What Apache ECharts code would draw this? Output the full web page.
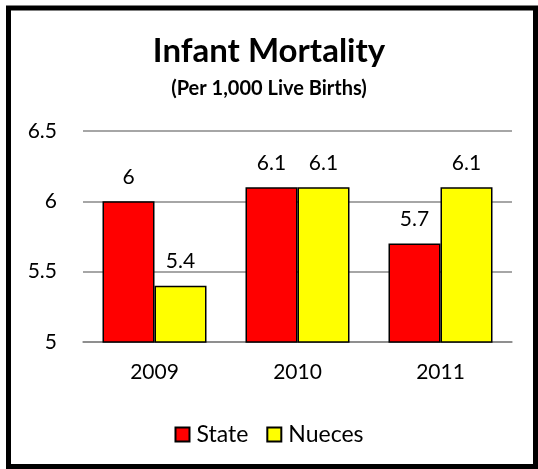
<!DOCTYPE html>
<html>
<head>
<meta charset="utf-8">
<script src="https://cdn.jsdelivr.net/npm/echarts@6/dist/echarts.min.js"></script>
<style>
  html, body { margin: 0; padding: 0; background: #fff; }
  #chart { width: 538px; height: 469px; }
</style>
</head>
<body>
<div id="chart"></div>
<script>
const years = ['2009', '2010', '2011']
const stateValues = [6, 6.1, 5.7]
const nuecesValues = [5.4, 6.1, 6.1]
const yTicks = { min: 5, max: 6.5, step: 0.5 }

const FONT = 'Lato'

const chart = echarts.init(document.getElementById('chart'))

const barLabel = {
	show: true,
	position: 'top',
	distance: 14,
	color: '#000',
	fontSize: 21,
	fontFamily: FONT
}

chart.setOption({
	animation: false,
	title: [
		{
			text: 'Infant Mortality',
			left: 'center',
			top: 30,
			textStyle: { fontSize: 33, fontWeight: 'bold', color: '#000', fontFamily: FONT }
		},
		{
			text: '(Per 1,000 Live Births)',
			left: 'center',
			top: 74,
			textStyle: { fontSize: 20, fontWeight: 'bold', color: '#000', fontFamily: FONT }
		}
	],
	graphic: [{
		type: 'rect',
		shape: { x: 8.5, y: 8, width: 527, height: 458.5 },
		style: { fill: 'none', stroke: '#000', lineWidth: 5 },
		z: 100
	}],
	legend: {
		top: 418,
		left: 'center',
		icon: 'rect',
		itemWidth: 14,
		itemHeight: 14,
		itemGap: 18,
		textStyle: { fontSize: 23, color: '#000', fontFamily: FONT, padding: [0, 0, 0, 2] },
		data: ['State', 'Nueces']
	},
	grid: { left: 83, right: 26, top: 131, bottom: 127 },
	xAxis: {
		type: 'category',
		data: years,
		axisTick: { show: false },
		axisLine: { lineStyle: { color: '#888', width: 1.5 } },
		axisLabel: { color: '#000', fontSize: 21, fontFamily: FONT, margin: 20 }
	},
	yAxis: {
		type: 'value',
		min: yTicks.min,
		max: yTicks.max,
		interval: yTicks.step,
		axisLine: { show: false },
		axisTick: { show: false },
		splitLine: { lineStyle: { color: '#888', width: 1.5 } },
		axisLabel: { color: '#000', fontSize: 21, fontFamily: FONT, margin: 26 }
	},
	series: [
		{
			name: 'State',
			type: 'bar',
			data: stateValues,
			barWidth: 52,
			barGap: '0%',
			itemStyle: { color: '#ff0000', borderColor: '#000', borderWidth: 1.5 },
			label: barLabel
		},
		{
			name: 'Nueces',
			type: 'bar',
			data: nuecesValues,
			barWidth: 52,
			itemStyle: { color: '#ffff00', borderColor: '#000', borderWidth: 1.5 },
			label: barLabel
		}
	]
})
</script>
</body>
</html>
